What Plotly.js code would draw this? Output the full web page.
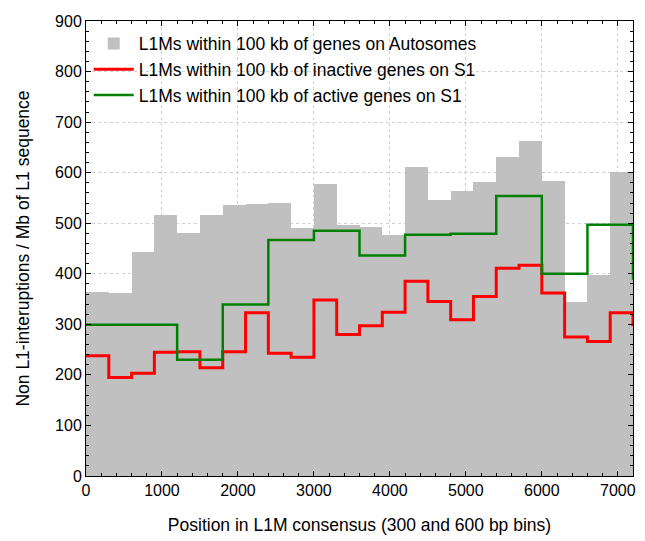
<!DOCTYPE html>
<html>
<head>
<meta charset="utf-8">
<script src="https://cdn.plot.ly/plotly-3.0.1.min.js"></script>
<style>html,body{margin:0;padding:0;background:#fff;}#chart{width:645px;height:541px;}</style>
</head>
<body>
<div id="chart"></div>
<script>
// 300 bp bin starts for autosome bars and red line
const binStarts300 = [0,300,600,900,1200,1500,1800,2100,2400,2700,3000,3300,3600,3900,4200,4500,4800,5100,5400,5700,6000,6300,6600,6900];
const autosomes = [364,362,444,516,480,516,536,538,540,490,577,496,492,477,611,546,563,581,631,662,583,345,398,601];
// red step line (inactive genes on S1), with trailing point at 7200
const inactiveX = [0,300,600,900,1200,1500,1800,2100,2400,2700,3000,3300,3600,3900,4200,4500,4800,5100,5400,5700,6000,6300,6600,6900,7200];
const inactive = [238,195,203,245,246,214,246,323,243,235,348,280,297,324,385,345,309,355,411,417,362,275,266,323,296];
// green step line (active genes on S1), 600 bp bins, trailing point at 7200
const activeX = [0,600,1200,1800,2400,3000,3600,4200,4800,5400,6000,6600,7200];
const active = [299,299,230,339,467,485,436,477,479,554,400,497,388];

const fam = 'Liberation Sans, Arial, sans-serif';
const tickFont = {family:fam, size:16, color:'#000'};
const bigFont = {family:fam, size:17.5, color:'#000'};

const traces = [
  {type:'bar', x:binStarts300, y:autosomes, width:300, offset:0,
   marker:{color:'#c0c0c0', line:{width:0}},
   name:'L1Ms within 100 kb of genes on Autosomes'},
  {type:'scatter', mode:'lines', x:inactiveX, y:inactive,
   line:{shape:'hv', color:'#ff0000', width:3},
   name:'L1Ms within 100 kb of inactive genes on S1'},
  {type:'scatter', mode:'lines', x:activeX, y:active,
   line:{shape:'hv', color:'#008000', width:2.5},
   name:'L1Ms within 100 kb of active genes on S1'}
];

const layout = {
  width:645, height:541,
  margin:{l:86, r:12, t:21, b:65},
  paper_bgcolor:'#fff', plot_bgcolor:'#fff',
  font:bigFont,
  showlegend:true,
  bargap:0,
  legend:{x:0.005, y:0.99, xanchor:'left', yanchor:'top', bgcolor:'rgba(0,0,0,0)',
          font:bigFont, tracegroupgap:0, itemwidth:40},
  xaxis:{range:[0,7200], dtick:1000, tick0:0, showline:true, mirror:'ticks', linecolor:'#000', linewidth:1,
         ticks:'inside', ticklen:5, tickcolor:'#000',
         minor:{dtick:200, ticks:'inside', ticklen:3, tickcolor:'#000', showgrid:false},
         showgrid:true, gridcolor:'#d0d0d0', griddash:'dot', zeroline:false,
         tickfont:tickFont,
         title:{text:'Position in L1M consensus (300 and 600 bp bins)', font:bigFont, standoff:20}},
  yaxis:{range:[0,900], dtick:100, tick0:0, showline:true, mirror:'ticks', linecolor:'#000', linewidth:1,
         ticks:'inside', ticklen:5, tickcolor:'#000',
         minor:{dtick:20, ticks:'inside', ticklen:3, tickcolor:'#000', showgrid:false},
         showgrid:true, gridcolor:'#d0d0d0', griddash:'dot', zeroline:false,
         tickfont:tickFont,
         title:{text:'Non L1-interuptions / Mb of L1 sequence', font:bigFont, standoff:20}}
};

Plotly.newPlot('chart', traces, layout, {displayModeBar:false, staticPlot:true});
</script>
</body>
</html>
